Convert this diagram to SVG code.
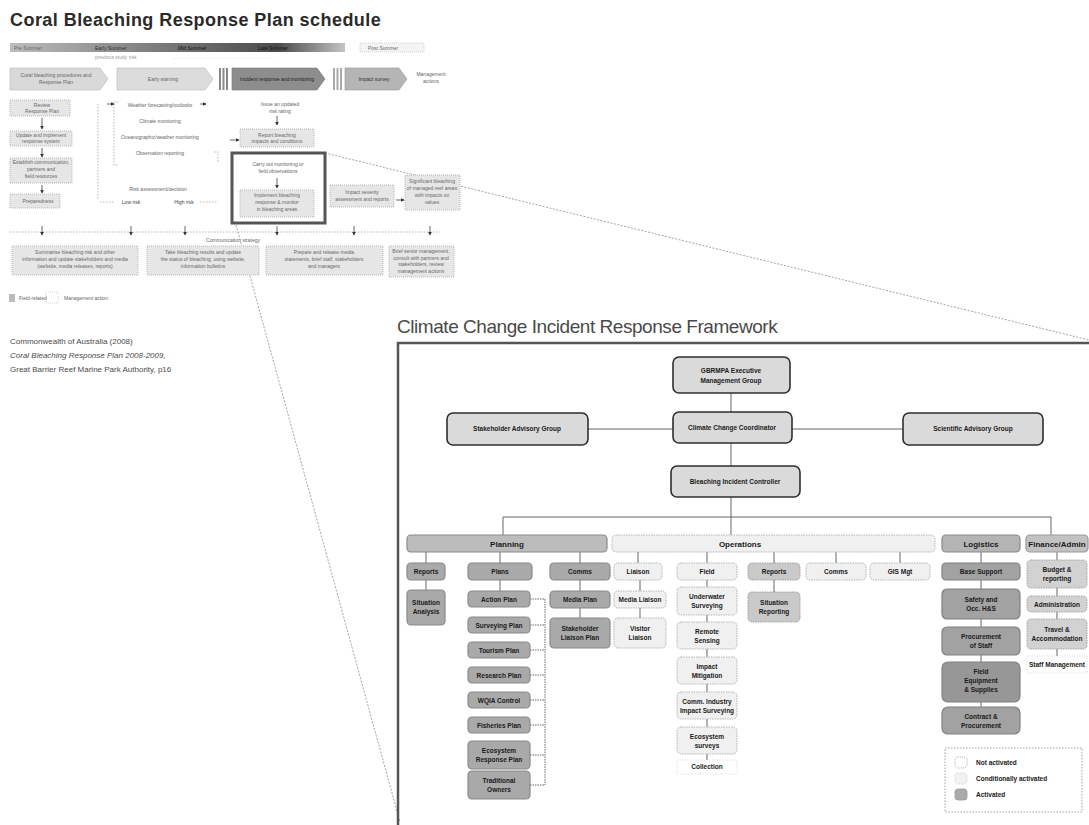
<svg xmlns="http://www.w3.org/2000/svg" width="1089" height="825" viewBox="0 0 1089 825">
<style>
text{font-family:"Liberation Sans",Arial,sans-serif}
.t1{font-size:18px;fill:#2a2a2a;font-weight:bold;letter-spacing:0.45px}
.t2{font-size:19px;fill:#4a4a4a;letter-spacing:-0.45px}
.s{font-size:5px;fill:#666;text-anchor:middle}
.sl{font-size:5px;fill:#666}
.sb{fill:#e6e6e6;stroke:#aaa;stroke-width:0.8;stroke-dasharray:1 1}
.cite{font-size:8px;fill:#4a4a4a}
.n{font-size:6.5px;font-weight:bold;fill:#1a1a1a;text-anchor:middle}
.h{font-size:8px;font-weight:bold;fill:#1a1a1a;text-anchor:middle}
.top{fill:#dadada;stroke:#2e2e2e;stroke-width:1.6}
.pl{fill:#a9a9a9;stroke:#8a8a8a;stroke-width:1.2}
.ph{fill:#bcbcbc;stroke:#8a8a8a;stroke-width:1.2}
.cond{fill:#f0f0f0;stroke:#b5b5b5;stroke-width:1;stroke-dasharray:1.5 1}
.mid{fill:#c9c9c9;stroke:#a0a0a0;stroke-width:1;stroke-dasharray:1.5 1}
.lg{fill:#a2a2a2;stroke:#808080;stroke-width:1.2}
.lgh{fill:#b4b4b4;stroke:#8a8a8a;stroke-width:1.2}
.fa{fill:#d2d2d2;stroke:#a5a5a5;stroke-width:1;stroke-dasharray:1.5 1}
.fah{fill:#c2c2c2;stroke:#9a9a9a;stroke-width:1.2}
.ln{stroke:#555;stroke-width:0.9;fill:none}
.sa{stroke:#999;stroke-width:0.7;fill:none;stroke-dasharray:1.5 1.5}
.zoom{stroke:#999;stroke-width:0.9;fill:none;stroke-dasharray:2 1.5}
</style>
<defs>
<linearGradient id="tl" x1="0" x2="1" y1="0" y2="0">
<stop offset="0" stop-color="#bdbdbd"/>
<stop offset="0.45" stop-color="#7a7a7a"/>
<stop offset="0.8" stop-color="#4a4a4a"/>
<stop offset="1" stop-color="#c4c4c4"/>
</linearGradient>
<marker id="ar" viewBox="0 0 6 6" refX="5" refY="3" markerWidth="4" markerHeight="4" orient="auto">
<path d="M0,0 L6,3 L0,6 z" fill="#333"/>
</marker>
</defs>
<rect width="1089" height="825" fill="#fff"/>

<g id="zoom-lines">
<path class="zoom" d="M325,153 L1089,340"/>
<path class="zoom" d="M236,225 L400,822"/>
</g>

<g id="schedule">
<text class="t1" x="10" y="26">Coral Bleaching Response Plan schedule</text>
<g id="timeline">
<rect x="10" y="43" width="335" height="9" fill="url(#tl)"/>
<text class="sl" x="14" y="49.5" fill="#333">Pre Summer</text>
<text class="sl" x="95" y="49.5" style="fill:#333">Early Summer</text>
<text class="sl" x="178" y="49.5" style="fill:#111">Mid Summer</text>
<text class="sl" x="258" y="49.5" style="fill:#111">Late Summer</text>
<rect x="360" y="43" width="64" height="9" fill="#f4f4f4" stroke="#bbb" stroke-width="0.6" stroke-dasharray="1 1"/>
<text class="sl" x="368" y="49.5">Post Summer</text>
<text class="sl" x="95" y="59" style="fill:#999">previous study risk</text>
<text class="sl" x="172" y="59" style="fill:#bbb">. . . . . . . . . . . . . . . . . . . . . . . . . . . . . . . . . . . . .</text>
</g>
<g id="phase1"><path d="M10,68 H100 L108,79 L100,90 H10 Z" fill="#d9d9d9" stroke="#bbb" stroke-width="0.6"/>
<text class="s" x="56" y="77">Coral bleaching procedures and</text><text class="s" x="56" y="84">Response Plan</text></g>
<g id="phase2"><path d="M117,68 H205 L213,79 L205,90 H117 Z" fill="#dcdcdc" stroke="#bbb" stroke-width="0.6"/>
<text class="s" x="163" y="81">Early warning</text></g>
<g id="phase3"><rect x="219" y="68" width="2" height="22" fill="#888"/><rect x="222.5" y="68" width="2" height="22" fill="#888"/><rect x="226" y="68" width="2" height="22" fill="#888"/>
<path d="M232,68 H317 L325,79 L317,90 H232 Z" fill="#8d8d8d" stroke="#777" stroke-width="0.6"/>
<text class="s" x="277" y="81" style="fill:#222">Incident response and monitoring</text></g>
<g id="phase4"><rect x="333" y="68" width="2" height="22" fill="#aaa"/><rect x="336.5" y="68" width="2" height="22" fill="#aaa"/><rect x="340" y="68" width="2" height="22" fill="#aaa"/>
<path d="M345,68 H399 L407,79 L399,90 H345 Z" fill="#b5b5b5" stroke="#999" stroke-width="0.6"/>
<text class="s" x="374" y="81" style="fill:#333">Impact survey</text></g>
<g id="mgmt-actions"><text class="s" x="431" y="76">Management</text><text class="s" x="431" y="83">actions</text></g>

<g id="s-review"><rect class="sb" x="10" y="100" width="60" height="16"/><text class="s" x="42" y="106.5">Review</text><text class="s" x="42" y="113">Response Plan</text></g>
<g id="s-update"><rect class="sb" x="10" y="131" width="62" height="15"/><text class="s" x="41" y="137">Update and implement</text><text class="s" x="41" y="143">response system</text></g>
<g id="s-establish"><rect class="sb" x="10" y="158" width="62" height="25"/><text class="s" x="41" y="164">Establish communication,</text><text class="s" x="41" y="171">partners and</text><text class="s" x="41" y="178">field resources</text></g>
<g id="s-prep"><rect class="sb" x="10" y="194" width="50" height="14"/><text class="s" x="38" y="203">Preparedness</text></g>

<g id="s-monitor">
<path class="sa" d="M98,104 V200 M118,102 H114 V165 H118"/>
<text class="s" x="160" y="107">Weather forecasting/outlooks</text>
<text class="s" x="160" y="123">Climate monitoring</text>
<text class="s" x="160" y="139">Oceanographic/weather monitoring</text>
<text class="s" x="160" y="155">Observation reporting</text>
<text class="s" x="158" y="191">Risk assessment/decision</text>
<text class="s" x="131" y="204" style="fill:#444">Low risk</text>
<text class="s" x="184" y="204" style="fill:#444">High risk</text>
<path class="sa" d="M100,202 H114 M200,202 H218 M214,152 H218 V162"/>
</g>
<g id="s-alert"><text class="s" x="280" y="106">Issue an updated</text><text class="s" x="280" y="113">risk rating</text></g>
<g id="s-report"><rect class="sb" x="240" y="129" width="74" height="18"/><text class="s" x="277" y="136.5">Report bleaching</text><text class="s" x="277" y="143">impacts and conditions</text></g>
<g id="s-incident">
<rect x="232" y="153" width="93" height="70" fill="none" stroke="#555" stroke-width="3"/>
<text class="s" x="278" y="166">Carry out monitoring or</text><text class="s" x="278" y="173">field observations</text>
<rect class="sb" x="240" y="190" width="74" height="27"/>
<text class="s" x="277" y="197">Implement bleaching</text><text class="s" x="277" y="204">response &amp; monitor</text><text class="s" x="277" y="211">in bleaching areas</text>
</g>
<g id="s-severity"><rect class="sb" x="330" y="185" width="64" height="22"/><text class="s" x="362" y="194">Impact severity</text><text class="s" x="362" y="201">assessment and reports</text></g>
<g id="s-significant"><rect class="sb" x="405" y="175" width="55" height="35"/><text class="s" x="432" y="183">Significant bleaching</text><text class="s" x="432" y="190">of managed reef areas</text><text class="s" x="432" y="197">with impacts on</text><text class="s" x="432" y="204">values</text></g>

<g id="s-comms-line">
<path class="sa" d="M10,232 H440"/>
<text class="s" x="233" y="242">Communication strategy</text>
</g>
<g id="s-b1"><rect class="sb" x="12" y="246" width="126" height="29"/><text class="s" x="75" y="254">Summarise bleaching risk and other</text><text class="s" x="75" y="261">information and update stakeholders and media</text><text class="s" x="75" y="268">(website, media releases, reports)</text></g>
<g id="s-b2"><rect class="sb" x="147" y="246" width="112" height="29"/><text class="s" x="203" y="254">Take bleaching results and update</text><text class="s" x="203" y="261">the status of bleaching, using website,</text><text class="s" x="203" y="268">information bulletins</text></g>
<g id="s-b3"><rect class="sb" x="266" y="246" width="117" height="29"/><text class="s" x="324" y="254">Prepare and release media</text><text class="s" x="324" y="261">statements, brief staff, stakeholders</text><text class="s" x="324" y="268">and managers</text></g>
<g id="s-b4"><rect class="sb" x="389" y="246" width="65" height="31"/><text class="s" x="421" y="253">Brief senior management,</text><text class="s" x="421" y="259.5">consult with partners and</text><text class="s" x="421" y="266">stakeholders, review</text><text class="s" x="421" y="272.5">management actions</text></g>
<g id="s-legend">
<rect x="9" y="294" width="6" height="8" fill="#bbb"/>
<text class="sl" x="19" y="300">Field-related</text>
<rect x="46" y="292" width="12" height="11" fill="none" stroke="#bbb" stroke-width="0.6" stroke-dasharray="1 1"/>
<text class="sl" x="64" y="300">Management action</text>
</g>
<g id="citation">
<text class="cite" x="10" y="344">Commonwealth of Australia (2008)</text>
<text class="cite" x="10" y="358" font-style="italic">Coral Bleaching Response Plan 2008-2009,</text>
<text class="cite" x="10" y="372">Great Barrier Reef Marine Park Authority, p16</text>
</g>
</g>

<g id="schedule-connectors">
<path class="ln" marker-end="url(#ar)" d="M42,118 V129"/>
<path class="ln" marker-end="url(#ar)" d="M42,148 V157"/>
<path class="ln" marker-end="url(#ar)" d="M42,185 V193"/>
<path class="ln" marker-end="url(#ar)" d="M107,104 H114"/>
<path class="ln" marker-end="url(#ar)" d="M200,104 H206"/>
<path class="ln" marker-end="url(#ar)" d="M277,116 V125"/>
<path class="ln" marker-end="url(#ar)" d="M230,140 H239"/>
<path class="ln" marker-end="url(#ar)" d="M277,178 V188"/>
<path class="ln" marker-end="url(#ar)" d="M396,200 H404"/>
<path class="ln" marker-end="url(#ar)" d="M42,226 V235"/>
<path class="ln" marker-end="url(#ar)" d="M131,226 V235"/>
<path class="ln" marker-end="url(#ar)" d="M185,226 V235"/>
<path class="ln" marker-end="url(#ar)" d="M277,226 V235"/>
<path class="ln" marker-end="url(#ar)" d="M354,226 V235"/>
<path class="ln" marker-end="url(#ar)" d="M430,226 V235"/>
</g>

<text class="t2" x="397" y="333">Climate Change Incident Response Framework</text>
<rect x="398" y="343" width="720" height="500" fill="none" stroke="#555" stroke-width="2.5"/>

<g id="fw-connectors">
<path class="ln" d="M731,393 V412 M588,429 H673 M792,429 H903 M731,443 V466 M731,497 V535 M503,517 H1051 M503,517 V535 M1051,517 V535"/>
<path class="ln" d="M426,552 V563 M500,552 V563 M580,552 V563"/>
<path class="ln" d="M426,580 V590 M500,580 V591 M580,580 V591 M580,608 V618"/>
<path class="ln" stroke-dasharray="1.5 1" d="M530,599 H545 M530,625 H545 M530,650 H545 M530,675 H545 M530,700 H545 M530,725 H545 M530,755 H545 M530,785 H545 M545,599 V785"/>
<path class="ln" d="M638,552 V563 M707,552 V563 M774,552 V563 M836,552 V563 M900,552 V563"/>
<path class="ln" d="M640,580 V591 M640,608 V618 M707,580 V587 M707,615 V622 M707,649 V657 M707,684 V692 M707,719 V727 M707,754 V760 M774,580 V592"/>
<path class="ln" d="M981,552 V563 M981,580 V589 M981,619 V627 M981,655 V662 M981,702 V707"/>
<path class="ln" d="M1057,552 V560 M1057,588 V596 M1057,612 V619 M1057,649 V656"/>
</g>

<g id="gbrmpa"><rect class="top" x="673" y="357" width="117" height="36" rx="6"/><text class="n" x="731" y="373">GBRMPA Executive</text><text class="n" x="731" y="383">Management Group</text></g>
<g id="ccc"><rect class="top" x="673" y="412" width="119" height="31" rx="6"/><text class="n" x="732" y="430">Climate Change Coordinator</text></g>
<g id="stakeholder-ag"><rect class="top" x="447" y="413" width="141" height="32" rx="6"/><text class="n" x="517" y="431">Stakeholder Advisory Group</text></g>
<g id="scientific-ag"><rect class="top" x="903" y="413" width="140" height="32" rx="6"/><text class="n" x="973" y="431">Scientific Advisory Group</text></g>
<g id="bic"><rect class="top" x="671" y="466" width="129" height="31" rx="6"/><text class="n" x="735" y="484">Bleaching Incident Controller</text></g>

<g id="planning"><rect class="ph" x="407" y="535" width="200" height="17" rx="4"/><text class="h" x="507" y="546.5">Planning</text></g>
<g id="operations"><rect class="cond" x="612" y="535" width="323" height="17" rx="4"/><text class="h" x="740" y="546.5">Operations</text></g>
<g id="logistics"><rect class="lgh" x="942" y="535" width="78" height="17" rx="4"/><text class="h" x="981" y="546.5">Logistics</text></g>
<g id="finance"><rect class="fah" x="1026" y="535" width="62" height="17" rx="4"/><text class="h" x="1057" y="546.5">Finance/Admin</text></g>

<g id="p-reports"><rect class="pl" x="407" y="563" width="38" height="17" rx="4"/><text class="n" x="426" y="574">Reports</text></g>
<g id="p-plans"><rect class="pl" x="468" y="563" width="64" height="17" rx="4"/><text class="n" x="500" y="574">Plans</text></g>
<g id="p-comms"><rect class="pl" x="550" y="563" width="60" height="17" rx="4"/><text class="n" x="580" y="574">Comms</text></g>
<g id="p-situation"><rect class="pl" x="407" y="590" width="38" height="35" rx="4"/><text class="n" x="426" y="605">Situation</text><text class="n" x="426" y="614">Analysis</text></g>
<g id="p-action"><rect class="pl" x="468" y="591" width="62" height="16" rx="4"/><text class="n" x="499" y="601.5">Action Plan</text></g>
<g id="p-surveying"><rect class="pl" x="468" y="617" width="62" height="16" rx="4"/><text class="n" x="499" y="627.5">Surveying Plan</text></g>
<g id="p-tourism"><rect class="pl" x="468" y="642" width="62" height="16" rx="4"/><text class="n" x="499" y="652.5">Tourism Plan</text></g>
<g id="p-research"><rect class="pl" x="468" y="667" width="62" height="16" rx="4"/><text class="n" x="499" y="677.5">Research Plan</text></g>
<g id="p-wqia"><rect class="pl" x="468" y="692" width="62" height="16" rx="4"/><text class="n" x="499" y="702.5">WQIA Control</text></g>
<g id="p-fisheries"><rect class="pl" x="468" y="717" width="62" height="16" rx="4"/><text class="n" x="499" y="727.5">Fisheries Plan</text></g>
<g id="p-ecosystem"><rect class="pl" x="468" y="741" width="62" height="28" rx="4"/><text class="n" x="499" y="753">Ecosystem</text><text class="n" x="499" y="762">Response Plan</text></g>
<g id="p-traditional"><rect class="pl" x="468" y="771" width="62" height="28" rx="4"/><text class="n" x="499" y="783">Traditional</text><text class="n" x="499" y="792">Owners</text></g>
<g id="p-media"><rect class="pl" x="550" y="591" width="60" height="17" rx="4"/><text class="n" x="580" y="602">Media Plan</text></g>
<g id="p-stakeholder"><rect class="pl" x="550" y="618" width="60" height="30" rx="4"/><text class="n" x="580" y="631">Stakeholder</text><text class="n" x="580" y="640">Liaison Plan</text></g>

<g id="o-liaison"><rect class="cond" x="614" y="563" width="48" height="17" rx="4"/><text class="n" x="638" y="574">Liaison</text></g>
<g id="o-field"><rect class="cond" x="677" y="563" width="60" height="17" rx="4"/><text class="n" x="707" y="574">Field</text></g>
<g id="o-reports"><rect class="mid" x="748" y="563" width="52" height="17" rx="4"/><text class="n" x="774" y="574">Reports</text></g>
<g id="o-comms"><rect class="cond" x="806" y="563" width="60" height="17" rx="4"/><text class="n" x="836" y="574">Comms</text></g>
<g id="o-gis"><rect class="cond" x="870" y="563" width="60" height="17" rx="4"/><text class="n" x="900" y="574">GIS Mgt</text></g>
<g id="o-media-liaison"><rect class="cond" x="614" y="591" width="52" height="17" rx="4"/><text class="n" x="640" y="602">Media Liaison</text></g>
<g id="o-visitor-liaison"><rect class="cond" x="614" y="618" width="52" height="30" rx="4"/><text class="n" x="640" y="631">Visitor</text><text class="n" x="640" y="640">Liaison</text></g>
<g id="o-underwater"><rect class="cond" x="677" y="587" width="60" height="28" rx="4"/><text class="n" x="707" y="599">Underwater</text><text class="n" x="707" y="608">Surveying</text></g>
<g id="o-remote"><rect class="cond" x="677" y="622" width="60" height="27" rx="4"/><text class="n" x="707" y="634">Remote</text><text class="n" x="707" y="643">Sensing</text></g>
<g id="o-impact"><rect class="cond" x="677" y="657" width="60" height="27" rx="4"/><text class="n" x="707" y="669">Impact</text><text class="n" x="707" y="678">Mitigation</text></g>
<g id="o-industry"><rect class="cond" x="677" y="692" width="60" height="27" rx="4"/><text class="n" x="707" y="704">Comm. Industry</text><text class="n" x="707" y="713">Impact Surveying</text></g>
<g id="o-ecosurveys"><rect class="cond" x="677" y="727" width="60" height="27" rx="4"/><text class="n" x="707" y="739">Ecosystem</text><text class="n" x="707" y="748">surveys</text></g>
<g id="o-collection"><rect x="677" y="760" width="60" height="14" fill="none" stroke="#ccc" stroke-width="0.7" stroke-dasharray="1 1.5"/><text class="n" x="707" y="769">Collection</text></g>
<g id="o-sitrep"><rect class="mid" x="748" y="592" width="52" height="30" rx="4"/><text class="n" x="774" y="605">Situation</text><text class="n" x="774" y="614">Reporting</text></g>

<g id="l-base"><rect class="lg" x="942" y="563" width="78" height="17" rx="4"/><text class="n" x="981" y="574">Base Support</text></g>
<g id="l-safety"><rect class="lg" x="942" y="589" width="78" height="30" rx="5"/><text class="n" x="981" y="602">Safety and</text><text class="n" x="981" y="611">Occ. H&amp;S</text></g>
<g id="l-procurement"><rect class="lg" x="942" y="627" width="78" height="28" rx="5"/><text class="n" x="981" y="639">Procurement</text><text class="n" x="981" y="648">of Staff</text></g>
<g id="l-equipment"><rect class="lg" x="942" y="662" width="78" height="40" rx="6" style="fill:#979797"/><text class="n" x="981" y="674">Field</text><text class="n" x="981" y="683">Equipment</text><text class="n" x="981" y="692">&amp; Supplies</text></g>
<g id="l-contract"><rect class="lg" x="942" y="707" width="78" height="27" rx="6"/><text class="n" x="981" y="719">Contract &amp;</text><text class="n" x="981" y="728">Procurement</text></g>

<g id="f-budget"><rect class="fa" x="1027" y="560" width="60" height="28" rx="4"/><text class="n" x="1057" y="572">Budget &amp;</text><text class="n" x="1057" y="581">reporting</text></g>
<g id="f-admin"><rect class="fa" x="1027" y="596" width="60" height="16" rx="4"/><text class="n" x="1057" y="606.5">Administration</text></g>
<g id="f-travel"><rect class="fa" x="1027" y="619" width="60" height="30" rx="4"/><text class="n" x="1057" y="632">Travel &amp;</text><text class="n" x="1057" y="641">Accommodation</text></g>
<g id="f-staff"><rect x="1027" y="656" width="60" height="17" fill="#fff" stroke="#ccc" stroke-width="0.7" stroke-dasharray="1 1.5"/><text class="n" x="1057" y="667">Staff Management</text></g>

<g id="legend">
<rect x="945" y="748" width="137" height="64" fill="none" stroke="#888" stroke-width="0.8" stroke-dasharray="1.5 1.5"/>
<rect x="955" y="757" width="12" height="11" rx="3" fill="#fff" stroke="#999" stroke-width="0.8" stroke-dasharray="1 1"/>
<text class="n" x="976" y="765" style="text-anchor:start">Not activated</text>
<rect x="955" y="773" width="12" height="11" rx="3" fill="#f2f2f2" stroke="#ccc" stroke-width="0.8" stroke-dasharray="1 1"/>
<text class="n" x="976" y="781" style="text-anchor:start">Conditionally activated</text>
<rect x="955" y="789" width="12" height="11" rx="3" fill="#aaa" stroke="#999" stroke-width="0.8"/>
<text class="n" x="976" y="797" style="text-anchor:start">Activated</text>
</g>
</svg>
